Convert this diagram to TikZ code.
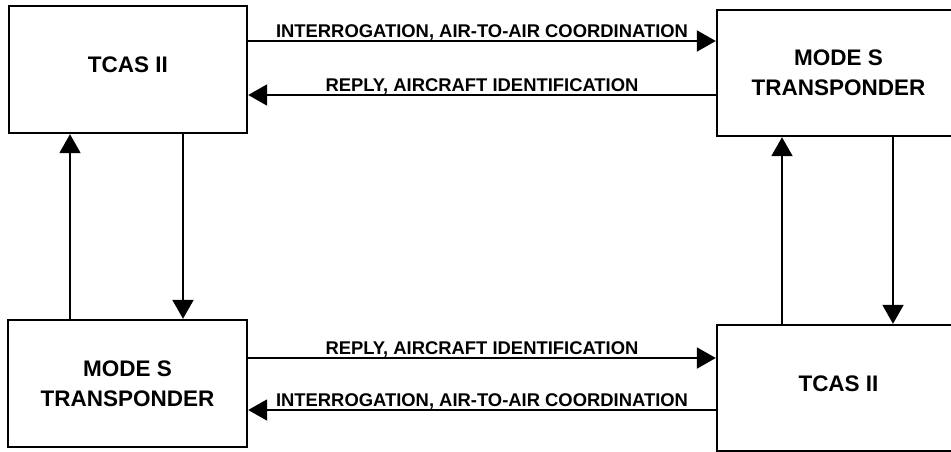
\documentclass[tikz,border=0pt]{standalone}
\usepackage{fontspec}
\setmainfont{Liberation Sans}
\usetikzlibrary{arrows.meta}

\begin{document}
\begin{tikzpicture}[x=1pt,y=-1pt,
  box/.style={draw,line width=2.4pt,inner sep=0pt,align=center,
    font=\bfseries\fontsize{22.5}{30}\selectfont},
  link/.style={-{Triangle[length=19pt,width=21pt]},line width=2pt},
  lbl/.style={anchor=base,yshift=3.5pt,inner sep=0pt,
    font=\bfseries\fontsize{18.4}{20}\selectfont}]
  \useasboundingbox (0,0) rectangle (951,451);
  \clip (0,0) rectangle (951,451);
  % the four boxes
  \node[box,minimum width=238pt,minimum height=127pt,text depth=9pt] (tcasA) at (128,69.5) {TCAS II};
  \node[box,minimum width=243pt,minimum height=126pt] (modeA) at (838.5,73) {MODE S\\TRANSPONDER};
  \node[box,minimum width=239pt,minimum height=127pt] (modeB) at (127.5,383.5) {MODE S\\TRANSPONDER};
  \node[box,minimum width=243pt,minimum height=126pt,text depth=9pt] (tcasB) at (838.5,388) {TCAS II};
  % start points of the connectors
  \coordinate (intA) at ([yshift=28.5pt]tcasA.east);
  \coordinate (repA) at ([yshift=-22pt]modeA.west);
  \coordinate (repB) at ([yshift=25.5pt]modeB.east);
  \coordinate (intB) at ([yshift=-22pt]tcasB.west);
  \coordinate (upA) at ([xshift=-57.5pt]modeB.north);
  \coordinate (dnA) at ([xshift=55pt]tcasA.south);
  \coordinate (upB) at ([xshift=-56.5pt]tcasB.north);
  \coordinate (dnB) at ([xshift=54.5pt]modeA.south);
  % air-to-air links
  \draw[link] (intA) -- node[lbl] {INTERROGATION, AIR-TO-AIR COORDINATION} (intA -| modeA.west);
  \draw[link] (repA) -- node[lbl] {REPLY, AIRCRAFT IDENTIFICATION} (repA -| tcasA.east);
  \draw[link] (repB) -- node[lbl] {REPLY, AIRCRAFT IDENTIFICATION} (repB -| tcasB.west);
  \draw[link] (intB) -- node[lbl] {INTERROGATION, AIR-TO-AIR COORDINATION} (intB -| modeB.east);
  % links inside each aircraft
  \draw[link] (upA) -- (upA |- tcasA.south);
  \draw[link] (dnA) -- (dnA |- modeB.north);
  \draw[link] (upB) -- (upB |- modeA.south);
  \draw[link] (dnB) -- (dnB |- tcasB.north);
\end{tikzpicture}
\end{document}
